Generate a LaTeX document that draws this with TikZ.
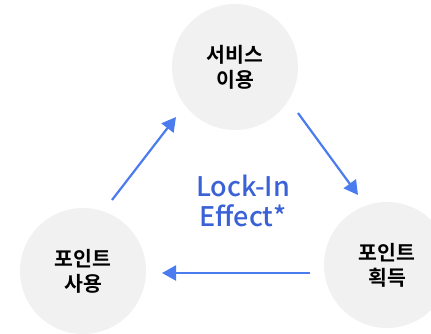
\documentclass[tikz,border=0pt]{standalone}
\usepackage{fontspec}
\setmainfont{Noto Sans CJK KR}
\newfontfamily\kr{Noto Sans CJK KR}[BoldFont={* Bold}]
\newfontfamily\krmed{Noto Sans CJK KR}[UprightFont={* Medium}]
\usetikzlibrary{arrows.meta}
\definecolor{circfill}{HTML}{F1F1F1}
\definecolor{arrowblue}{HTML}{4A7CF0}
\definecolor{textblue}{HTML}{3A62D6}
\tikzset{
  stage/.style={circle, fill=circfill, minimum size=126pt, inner sep=0pt, align=center,
    font=\kr\bfseries\fontsize{20.5}{25}\selectfont, text=black},
  flow/.style={draw=arrowblue, line width=2.2pt, -{Triangle[length=14pt,width=15pt]}},
}
\begin{document}
\begin{tikzpicture}[x=1pt,y=-1pt]
\useasboundingbox (0,0) rectangle (431,333);
\node[stage] (svc) at (235,67) {서비스\\이용};
\node[stage] (get) at (387,265) {포인트\\획득};
\node[stage] (use) at (83,271) {포인트\\사용};
\node[font=\krmed\fontsize{27}{30}\selectfont, text=textblue, align=center] (lock) at (243,201) {Lock-In\\Effect*};
\coordinate (a1s) at (112,200); \coordinate (a1e) at (176,117);
\coordinate (a2s) at (298,113); \coordinate (a2e) at (358,195);
\coordinate (a3s) at (310,273); \coordinate (a3e) at (162,273);
\draw[flow] (a1s) -- (a1e);
\draw[flow] (a2s) -- (a2e);
\draw[flow] (a3s) -- (a3e);
\end{tikzpicture}
\end{document}
